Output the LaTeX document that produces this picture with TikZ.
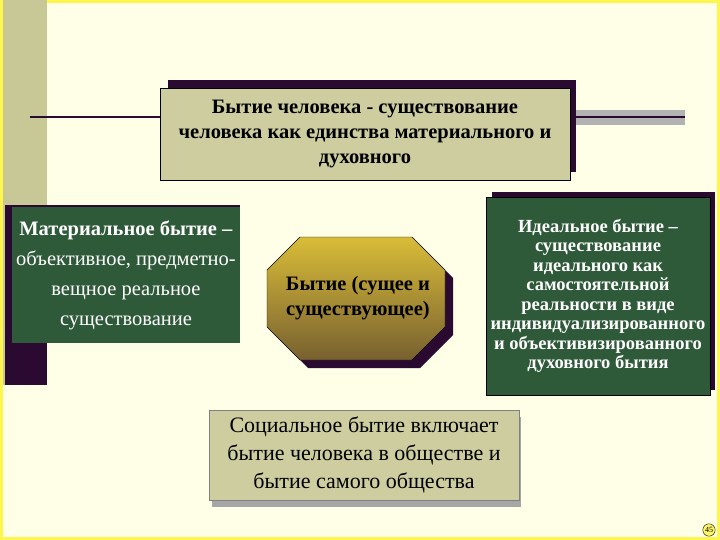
\documentclass[tikz,border=0pt]{standalone}
\usepackage{fontspec}
\setmainfont{Liberation Serif}
\definecolor{bg}{HTML}{FFFFE8}
\definecolor{olive}{HTML}{C8C896}
\definecolor{boxc}{HTML}{CDCDA0}
\definecolor{shad}{HTML}{2A0A30}
\definecolor{grn}{HTML}{2F5A3A}
\definecolor{gold}{HTML}{C8A050}
\tikzset{txt/.style={align=center},
 wtxt/.style={txt,text=white}}
\begin{document}
\begin{tikzpicture}[x=1pt,y=-1pt]
\fill[yellow!70!white] (0,0) rectangle (720,540);
\fill[bg] (3,3) rectangle (717,537);
\fill[olive] (3,0) rectangle (47,385);
\fill[gray!60] (570,110) rectangle (685,125);
\draw[line width=1.5pt,shad] (30,117) -- (160,117);
\draw[line width=1.5pt,shad] (570,117) -- (685,117);
% top box
\fill[shad] (168,80) rectangle (576,172);
\node[draw=black,fill=boxc,minimum width=410pt,minimum height=92pt,inner sep=1pt,txt,font=\bfseries\fontsize{20.5}{25}\selectfont] (top) at (365,134)
 {Бытие человека - существование\\человека как единства материального и\\духовного};
% left green
\fill[shad] (5,205) rectangle (240,340);
\fill[shad] (5,340) rectangle (47,385);
\node[fill=grn,minimum width=228pt,minimum height=135pt,inner sep=0pt,wtxt,font=\fontsize{20.5}{30}\selectfont] (mat) at (126,275)
 {\textbf{Материальное бытие –}\\объективное, предметно-\\вещное реальное\\существование};
% octagon
\fill[shad] (308,245) -- (420,245) -- (453,278) -- (453,335) -- (420,368) -- (308,368) -- (275,335) -- (275,278) -- cycle;
\draw[black,top color=gold!70!yellow,bottom color=gold!60!black] (300,237) -- (412,237) -- (445,270) -- (445,327) -- (412,360) -- (300,360) -- (267,327) -- (267,270) -- cycle;
\node[txt,font=\bfseries\fontsize{20.5}{25}\selectfont] (oct) at (358,298) {Бытие (сущее и\\существующее)};
% right green
\fill[shad] (492,192) rectangle (715,390);
\node[draw=black,fill=grn,minimum width=224pt,minimum height=198pt,inner sep=0pt,wtxt,font=\bfseries\fontsize{18.5}{19.5}\selectfont] (ide) at (598,296)
 {Идеальное бытие –\\существование\\идеального как\\самостоятельной\\реальности в виде\\индивидуализированного\\и объективизированного\\духовного бытия};
% bottom box
\fill[gray!70] (212,417) rectangle (521,507);
\node[draw=gray,fill=boxc,minimum width=310pt,minimum height=90pt,inner sep=0pt,txt,font=\fontsize{22}{28}\selectfont] (soc) at (364,455)
 {Социальное бытие включает\\бытие человека в обществе и\\бытие самого общества};
\node[circle,draw=black,fill=yellow!60,inner sep=1pt,font=\fontsize{8}{8}\selectfont] (pg) at (709,530) {45};
\end{tikzpicture}
\end{document}
